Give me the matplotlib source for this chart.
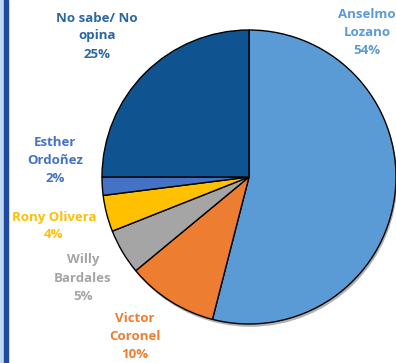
import matplotlib
matplotlib.use("Agg")
import matplotlib.pyplot as plt
from matplotlib.patches import Rectangle, Circle
import matplotlib.patheffects as pe

labels = ["Anselmo\nLozano", "Victor\nCoronel", "Willy\nBardales", "Rony Olivera", "Esther\nOrdoñez", "No sabe/ No\nopina"]
values = [54, 10, 5, 4, 2, 25]
colors = ["#5B9BD5", "#ED7D31", "#A5A5A5", "#FFC000", "#4472C4", "#0F5490"]
text_colors = ["#5B9BD5", "#ED7D31", "#A5A5A5", "#FFC000", "#4472C4", "#2A67A3"]
label_pos = [(367, 33), (135, 337), (83, 278), (54, 226), (55, 160), (97, 36)]

W, H = 396, 363
fig = plt.figure(figsize=(W / 100, H / 100), dpi=100)
ax = fig.add_axes([0, 0, 1, 1])

cx, cy, r = 249, H - 177, 147
shadow = Circle((cx, cy), r, facecolor="white", edgecolor="none", zorder=0)
shadow.set_path_effects([pe.SimplePatchShadow(offset=(1, -2), shadow_rgbFace="black", alpha=0.3)])
ax.add_patch(shadow)
wedges, _ = ax.pie(values, colors=colors, startangle=90, counterclock=False,
                   center=(cx, cy), radius=r, frame=True,
                   wedgeprops=dict(edgecolor="black", linewidth=1.0))
ax.set_xlim(0, W)
ax.set_ylim(0, H)
ax.set_aspect("equal")
ax.axis("off")

for lab, v, c, (x, y) in zip(labels, values, text_colors, label_pos):
    ax.text(x, H - y, f"{lab}\n{v}%", ha="center", va="center", color=c,
            fontsize=9.5, fontweight="bold", family="Open Sans", linespacing=1.5)

fig.patches.append(Rectangle((0, 0), 4 / W, 1, transform=fig.transFigure, color="#BDD7EE", zorder=10))
fig.patches.append(Rectangle((4 / W, 0), 3.5 / W, 1, transform=fig.transFigure, color="#2148A0", zorder=10))

fig.savefig("out.png", dpi=100)
